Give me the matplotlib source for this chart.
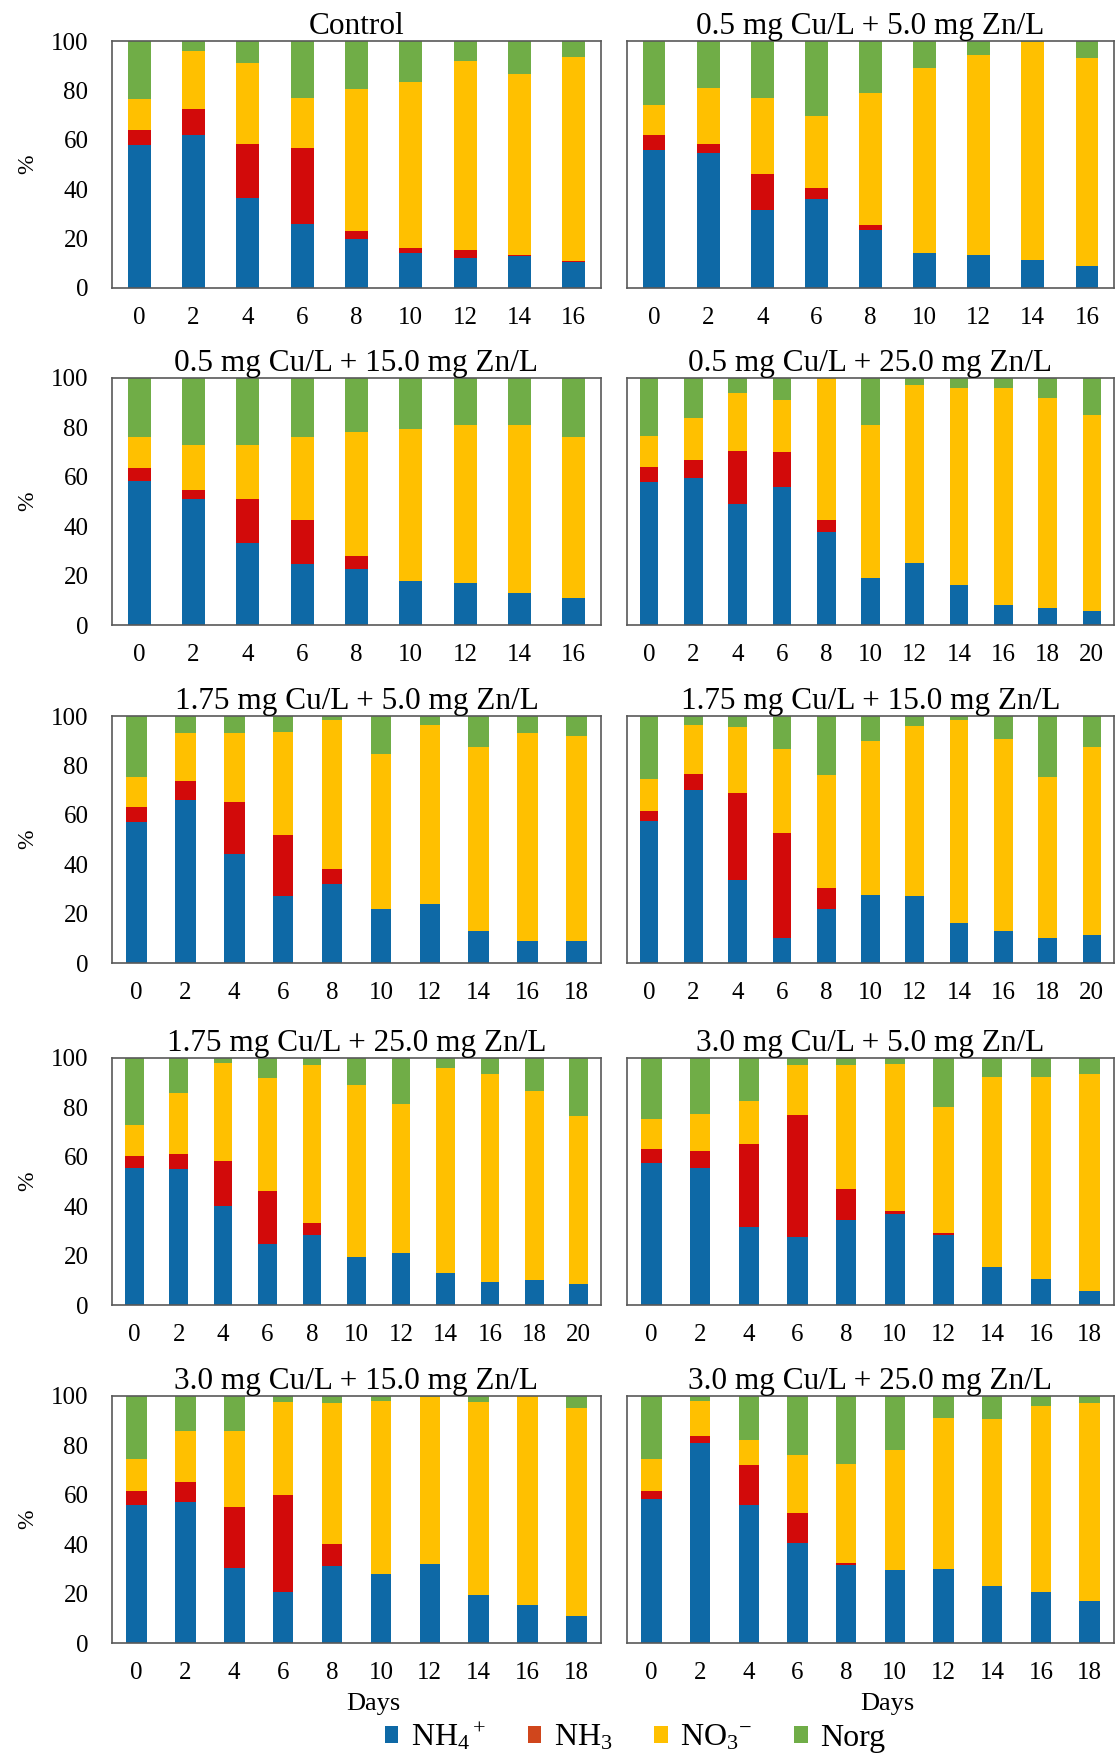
import numpy as np
import matplotlib
matplotlib.use('Agg')
import matplotlib.pyplot as plt
from matplotlib.patches import Patch

plt.rcParams['font.family'] = ['Liberation Serif', 'DejaVu Serif']
plt.rcParams['mathtext.fontset'] = 'custom'
plt.rcParams['mathtext.rm'] = 'Liberation Serif'
plt.rcParams['mathtext.it'] = 'Liberation Serif:italic'
plt.rcParams['mathtext.default'] = 'rm'

titles = ['Control',
          '0.5 mg Cu/L + 5.0 mg Zn/L',
          '0.5 mg Cu/L + 15.0 mg Zn/L',
          '0.5 mg Cu/L + 25.0 mg Zn/L',
          '1.75 mg Cu/L + 5.0 mg Zn/L',
          '1.75 mg Cu/L + 15.0 mg Zn/L',
          '1.75 mg Cu/L + 25.0 mg Zn/L',
          '3.0 mg Cu/L + 5.0 mg Zn/L',
          '3.0 mg Cu/L + 15.0 mg Zn/L',
          '3.0 mg Cu/L + 25.0 mg Zn/L']

d16 = [0, 2, 4, 6, 8, 10, 12, 14, 16]
d18 = [0, 2, 4, 6, 8, 10, 12, 14, 16, 18]
d20 = [0, 2, 4, 6, 8, 10, 12, 14, 16, 18, 20]
days = [d16, d16, d16, d20, d18, d20, d20, d18, d18, d18]

# % of total N per sampling day, one list per treatment
nh4 = [[58, 62, 36.5, 26, 20, 14, 12, 13, 10.5],
       [56, 54.5, 31.5, 36, 23.5, 14, 13.5, 11.5, 9],
       [58.5, 51, 33, 24.5, 22.5, 18, 17, 13, 11],
       [58, 59.5, 49, 56, 37.5, 19, 25, 16, 8, 7, 5.5],
       [57, 66, 44, 27, 32, 22, 24, 13, 9, 9],
       [57.5, 70, 33.5, 10, 22, 27.5, 27, 16, 13, 10, 11.5],
       [55.5, 55, 40, 24.5, 28.5, 19.5, 21, 13, 9.5, 10, 8.5],
       [57.5, 55.5, 31.5, 27.5, 34.5, 37, 28.5, 15.5, 10.5, 5.5],
       [56, 57, 30.5, 20.5, 31, 28, 32, 19.5, 15.5, 11],
       [58.5, 81, 56, 40.5, 31.5, 29.5, 30, 23, 20.5, 17]]

nh3 = [[6, 10.5, 22, 30.5, 3, 2, 3.5, 0.5, 0.5],
       [6, 4, 14.5, 4.5, 2, 0, 0, 0, 0],
       [5, 3.5, 18, 18, 5.5, 0, 0, 0, 0],
       [6, 7.5, 21.5, 14, 5, 0, 0, 0, 0, 0, 0],
       [6, 7.5, 21, 25, 6, 0, 0, 0, 0, 0],
       [4, 6.5, 35.5, 42.5, 8.5, 0, 0, 0, 0, 0, 0],
       [5, 6, 18.5, 21.5, 4.5, 0, 0, 0, 0, 0, 0],
       [5.5, 7, 33.5, 49.5, 12.5, 1, 0.5, 0, 0, 0],
       [5.5, 8, 24.5, 39.5, 9, 0, 0, 0, 0, 0],
       [3, 3, 16, 12, 1, 0, 0, 0, 0, 0]]

no3 = [[12.5, 23.5, 32.5, 20.5, 57.5, 67.5, 76.5, 73, 82.5],
       [12, 22.5, 31, 29, 53.5, 75, 81, 88, 84],
       [12.5, 18.5, 22, 33.5, 50, 61.5, 64, 68, 65],
       [12.5, 17, 23.5, 21, 57.5, 62, 72, 80, 88, 85, 79.5],
       [12.5, 19.5, 28, 41.5, 60.5, 62.5, 72.5, 74.5, 84, 83],
       [13, 20, 26.5, 34, 45.5, 62.5, 69, 82.5, 77.5, 65.5, 76],
       [12.5, 25, 39.5, 46, 64, 69.5, 60.5, 83, 84, 76.5, 68],
       [12.5, 15, 17.5, 20, 50, 59.5, 51, 77, 82, 88],
       [13, 21, 31, 37.5, 57, 70, 67.5, 78, 84.5, 84],
       [13, 14, 10, 23.5, 40, 48.5, 61, 67.5, 75.5, 80]]

norg = [[23.5, 4, 9, 23, 19.5, 16.5, 8, 13.5, 6.5],
        [26, 19, 23, 30.5, 21, 11, 5.5, 0.5, 7],
        [24, 27, 27, 24, 22, 20.5, 19, 19, 24],
        [23.5, 16, 6, 9, 0, 19, 3, 4, 4, 8, 15],
        [24.5, 7, 7, 6.5, 1.5, 15.5, 3.5, 12.5, 7, 8],
        [25.5, 3.5, 4.5, 13.5, 24, 10, 4, 1.5, 9.5, 24.5, 12.5],
        [27, 14, 2, 8, 3, 11, 18.5, 4, 6.5, 13.5, 23.5],
        [24.5, 22.5, 17.5, 3, 3, 2.5, 20, 7.5, 7.5, 6.5],
        [25.5, 14, 14, 2.5, 3, 2, 0.5, 2.5, 0, 5],
        [25.5, 2, 18, 24, 27.5, 22, 9, 9.5, 4, 3]]

labels = ['NH$_4$$^+$', 'NH$_3$', 'NO$_3$$^{-}$', 'Norg']
colors = ['#0E69A6', '#D20A0A', '#FFC000', '#70AD47']
legend_colors = ['#0E69A6', '#D0461C', '#FFC000', '#70AD47']

W, H = 1115, 1755
fig = plt.figure(figsize=(W / 100, H / 100), dpi=100)

# panel placement in pixels
row_tops = [41, 378, 716, 1058, 1396]
row_h = 247
cols = [(112, 489), (627, 487)]

for k in range(10):
    r, c = divmod(k, 2)
    x0, w = cols[c]
    ax = fig.add_axes([x0 / W, 1 - (row_tops[r] + row_h) / H, w / W, row_h / H])
    x = np.arange(len(days[k]))
    bottom = np.zeros(len(x))
    for series, col in zip([nh4[k], nh3[k], no3[k], norg[k]], colors):
        vals = np.array(series, dtype=float)
        ax.bar(x, vals, 0.42, bottom=bottom, color=col, linewidth=0)
        bottom += vals
    ax.set_xlim(-0.5, len(x) - 0.5)
    ax.set_ylim(0, 100)
    ax.set_xticks(x, [str(d) for d in days[k]])
    ax.set_yticks(range(0, 101, 20))
    ax.tick_params(axis='both', length=0, labelsize=18)
    ax.tick_params(axis='x', pad=14)
    ax.tick_params(axis='y', pad=17)
    if c == 1:
        ax.tick_params(axis='y', labelleft=False)
    else:
        ax.set_ylabel('%', fontsize=17)
        ax.yaxis.set_label_coords(-0.15, 0.5)
    ax.set_title(titles[k], fontsize=22.5, pad=4)
    for sp in ax.spines.values():
        sp.set_color('#595959')
        sp.set_linewidth(1.2)
    if r == 4:
        ax.set_xlabel('Days', fontsize=19, labelpad=6)
        ax.xaxis.label.set_x(0.535)

handles = [Patch(facecolor=col) for col in legend_colors]
fig.legend(handles, labels, loc='center', bbox_to_anchor=(635 / W, 1 - 1737 / H),
           ncol=4, frameon=False, fontsize=23, handlelength=0.42, handleheight=0.42,
           handletextpad=0.4, columnspacing=1.3, borderaxespad=0, borderpad=0)

fig.savefig('out.png', dpi=100)
